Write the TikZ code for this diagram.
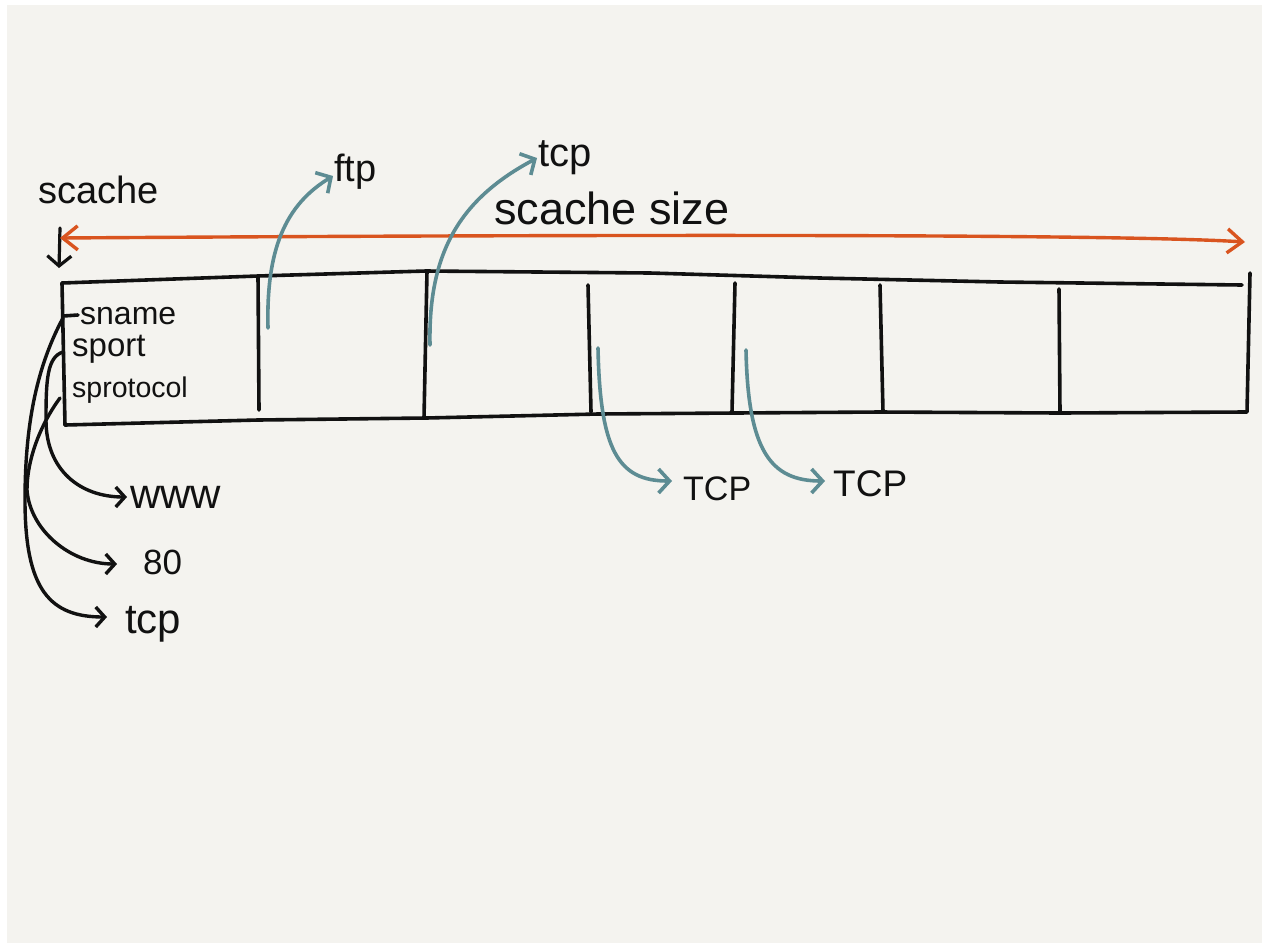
\documentclass[tikz,border=0pt]{standalone}
\usepackage{fontspec}
\setmainfont{Liberation Sans}
\usetikzlibrary{arrows.meta}
\definecolor{paper}{HTML}{F4F3EF}
\definecolor{ink}{HTML}{111111}
\definecolor{rust}{HTML}{D9541F}
\definecolor{teal}{HTML}{5D8C93}
\tikzset{
  txt/.style={inner sep=0pt, anchor=base west, text=ink, font=\fontsize{#1pt}{#1pt}\selectfont},
  boxline/.style={draw=ink, line width=3.6pt, line cap=round, line join=round},
  inkarrow/.style={draw=ink, line width=3.4pt, line cap=round, -{Straight Barb[length=9pt,width=20pt]}},
  tealarrow/.style={draw=teal, line width=3.6pt, line cap=round, -{Straight Barb[length=11pt,width=24pt]}},
  sizearrow/.style={draw=rust, line width=3.4pt, line cap=round, {Straight Barb[length=15pt,width=24pt]}-{Straight Barb[length=15pt,width=24pt]}}
}
\begin{document}
\begin{tikzpicture}[x=1pt,y=-1pt]
\useasboundingbox (0,0) rectangle (1265,946);
\fill[white] (0,0) rectangle (1265,946);
\fill[paper] (7,5) rectangle (1262,943);

% labels
\node[txt=38] (scache) at (38,203) {scache};
\node[txt=45] (size) at (494,224) {scache size};
\node[txt=32] (sname) at (80,324) {sname};
\node[txt=33] (sport) at (72,356) {sport};
\node[txt=28.5] (sproto) at (72,397) {sprotocol};
\node[txt=42] (www) at (130,508) {www};
\node[txt=35] (eighty) at (143,574) {80};
\node[txt=42] (tcpL) at (125,633) {tcp};
\node[txt=38] (ftp) at (334,181) {ftp};
\node[txt=40] (tcpT) at (538,166) {tcp};
\node[txt=34] (TCPa) at (683,500) {TCP};
\node[txt=37] (TCPb) at (833,496) {TCP};

% connector end points
\coordinate (downS) at (60,228);
\coordinate (downE) at (59,268);
\coordinate (sizeL) at (60,238);
\coordinate (sizeR) at (1245,242);
\coordinate (c1s) at (268,328);  \coordinate (ftpIn) at (333,176);
\coordinate (c2s) at (430,345);  \coordinate (tcpTIn) at (537,158);
\coordinate (c3s) at (598,348);  \coordinate (TCPaIn) at (672,481);
\coordinate (c4s) at (746,350);  \coordinate (TCPbIn) at (825,481);
\coordinate (snameS) at (63,318);
\coordinate (sportS) at (63,352);
\coordinate (sprotoS) at (60,398);
\coordinate (wwwIn) at (127,497);
\coordinate (eightyIn) at (117,564);
\coordinate (tcpLIn) at (107,617);

% the scache block
\draw[boxline] (62,283) -- (258,276) -- (426,271) -- (650,273) -- (820,278) -- (1000,282) -- (1242,285);
\draw[boxline] (65,425) -- (258,420) -- (426,418) -- (598,414) -- (735,413) -- (880,412) -- (1060,413) -- (1245,412);
\draw[boxline] (62,283) -- (65,425);
\draw[boxline] (1250,273) -- (1247,412) -- (1245,412);
\draw[boxline] (258,276) -- (259,410);
\draw[boxline] (427,271) -- (424,418);
\draw[boxline] (588,285) -- (591,412);
\draw[boxline] (735,283) -- (732,412);
\draw[boxline] (880,285) -- (883,412);
\draw[boxline] (1059,289) -- (1060,413);

% scache pointer and size
\draw[draw=ink, line width=3.2pt, line cap=round, -{Straight Barb[length=10pt,width=24pt]}] (downS) -- (downE);
\draw[sizearrow] (sizeL) .. controls (500,235) and (1100,233) .. (sizeR);

% teal pointers
\draw[tealarrow] (c1s) .. controls (266,250) and (285,205) .. (ftpIn);
\draw[tealarrow] (c2s) .. controls (428,250) and (462,198) .. (tcpTIn);
\draw[tealarrow] (c3s) .. controls (600,450) and (618,481) .. (TCPaIn);
\draw[tealarrow] (c4s) .. controls (748,450) and (770,481) .. (TCPbIn);

% field pointers
\draw[boxline] (63,316) -- (78,315);
\draw[inkarrow] (snameS) .. controls (35,370) and (25,430) .. (25,500) .. controls (25,590) and (50,617) .. (tcpLIn);
\draw[inkarrow] (sportS) .. controls (47,357) and (46,380) .. (46,420) .. controls (46,470) and (80,497) .. (wwwIn);
\draw[inkarrow] (sprotoS) .. controls (40,425) and (27,460) .. (27,490) .. controls (30,530) and (70,564) .. (eightyIn);
\end{tikzpicture}
\end{document}
